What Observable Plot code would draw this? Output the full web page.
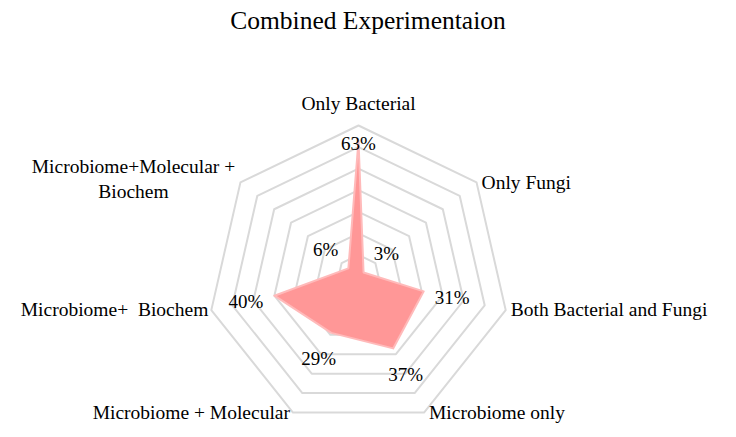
<!DOCTYPE html>
<html>
<head>
<meta charset="utf-8">
<script src="https://cdn.jsdelivr.net/npm/d3@7"></script>
<script src="https://cdn.jsdelivr.net/npm/@observablehq/plot@0.6"></script>
<style>
  body { margin: 0; background: #fff; font-family: "Liberation Serif", serif; }
  #title { height: 42px; line-height: 42px; text-align: center; font-size: 25.5px; color: #000; }
  svg text { white-space: pre; }
</style>
</head>
<body>
<div id="title">Combined Experimentaion</div>
<div id="chart"></div>
<script>
const categories = [
  "Only Bacterial",
  "Only Fungi",
  "Both Bacterial and Fungi",
  "Microbiome only",
  "Microbiome + Molecular",
  "Microbiome+  Biochem",
  "Microbiome+Molecular +\nBiochem"
];
const values = [63, 3, 31, 37, 29, 40, 6];
const ringLevels = [10, 20, 30, 40, 50, 60, 70];
const maxValue = 70;

const n = categories.length;
const ang = k => k * 2 * Math.PI / n;
const px = (r, k) => r * Math.sin(ang(k));
const py = (r, k) => r * Math.cos(ang(k));

// rings
const ringPts = [];
for (const lv of ringLevels) {
  for (let k = 0; k <= n; k++) ringPts.push({ring: lv, x: px(lv, k % n), y: py(lv, k % n)});
}
// data polygon
const poly = values.map((v, k) => ({x: px(v, k), y: py(v, k)}));
// value labels
const labelR = v => (v + 13.5 <= maxValue ? v + 13.5 : v - 1.3);
const valLabels = values.map((v, k) => ({x: px(labelR(v), k), y: py(labelR(v), k), t: `${v}%`}));
// category labels at outer vertex
const cat = categories.map((c, k) => ({x: px(maxValue, k), y: py(maxValue, k), t: c, k}));

const W = 736, H = 395;
const unit = 2.157;
const cxp = 358, cyp = 234;
const fs = 19.5, vfs = 19;

const chart = Plot.plot({
  width: W, height: H, margin: 0,
  x: {domain: [-cxp / unit, (W - cxp) / unit], axis: null},
  y: {domain: [-(H - cyp) / unit, cyp / unit], axis: null},
  style: {fontFamily: "'Liberation Serif', serif", fontSize: fs + "px", color: "#000"},
  marks: [
    Plot.line(ringPts, {x: "x", y: "y", z: "ring", stroke: "#d9d9d9", strokeWidth: 2}),
    Plot.line(poly, {x: "x", y: "y", curve: "linear-closed", fill: "#ff9797", stroke: "#ffbaba", strokeWidth: 2}),
    Plot.text(valLabels, {x: "x", y: "y", text: "t", fontSize: vfs, fill: "#000"}),
    Plot.text(cat.filter(d => d.k === 0), {x: "x", y: "y", text: "t", dy: -22, fontSize: fs, fill: "#000"}),
    Plot.text(cat.filter(d => d.k >= 1 && d.k <= 3), {x: "x", y: "y", text: "t", textAnchor: "start", dx: 5, fontSize: fs, fill: "#000"}),
    Plot.text(cat.filter(d => d.k === 4 || d.k === 5), {x: "x", y: "y", text: "t", textAnchor: "end", dx: -3, fontSize: fs, fill: "#000"}),
    Plot.text(cat.filter(d => d.k === 6), {x: "x", y: "y", text: "t", textAnchor: "middle", dx: -107, dy: -5, lineHeight: 1.3, fontSize: fs, fill: "#000"})
  ]
});
document.getElementById("chart").appendChild(chart);
</script>
</body>
</html>
